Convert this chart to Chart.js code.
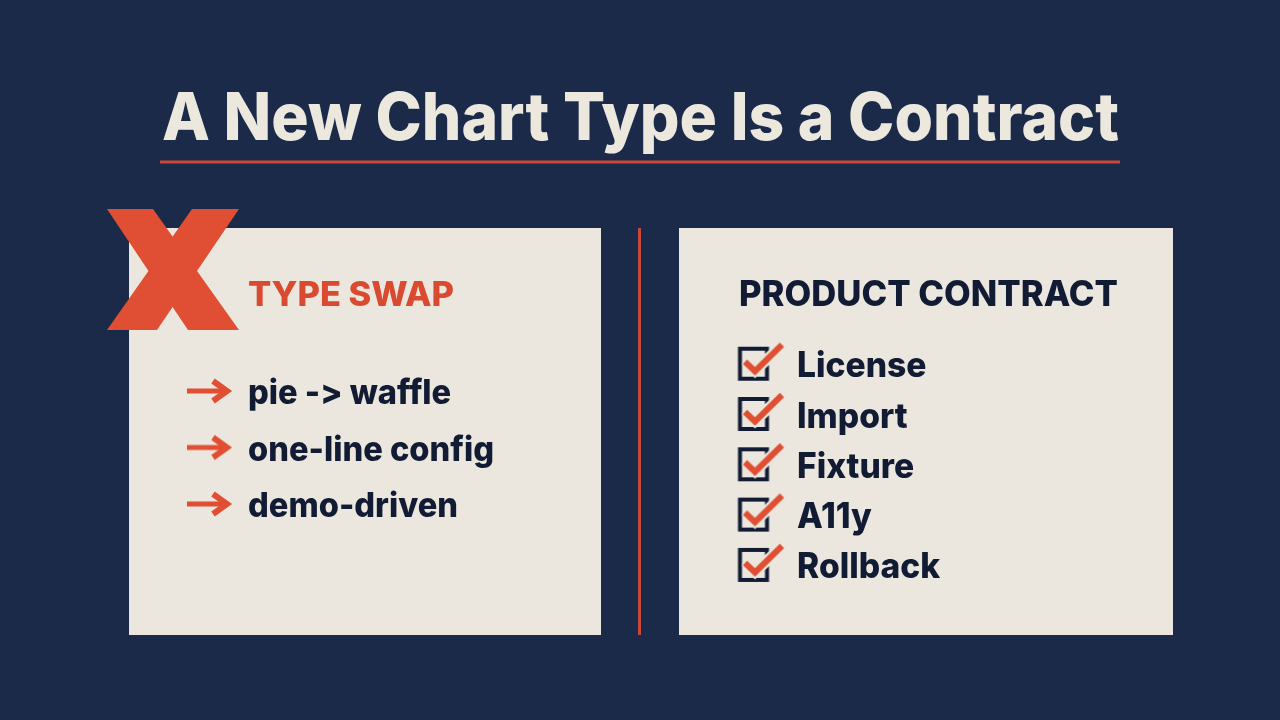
<!DOCTYPE html>
<html>
<head>
<meta charset="utf-8">
<title>A New Chart Type Is a Contract</title>
<script src="https://cdn.jsdelivr.net/npm/chart.js@4.4.1/dist/chart.umd.min.js"></script>
<style>
  html, body { margin: 0; padding: 0; background: #1b2a48; }
  #board { display: block; }
</style>
</head>
<body>
<canvas id="board" width="1280" height="720"></canvas>
<script>
// ── content ──
var TITLE = 'A New Chart Type Is a Contract';
var LEFT_HEADING = 'TYPE SWAP';
var LEFT_ITEMS = ['pie -> waffle', 'one-line config', 'demo-driven'];
var RIGHT_HEADING = 'PRODUCT CONTRACT';
var RIGHT_ITEMS = ['License', 'Import', 'Fixture', 'A11y', 'Rollback'];

// ── colours ──
var NAVY = '#1b2a48';
var PAPER = '#ebe7de';
var INK = '#111b33';
var RED = '#e04f33';
var CREAM = '#ece8de';
var FONT = "Inter, 'Noto Sans', sans-serif";

// layout rows (pixel units, the scales run 0..1280 / 0..720)
var LEFT_ROW0 = 391, LEFT_STEP = 56.5, ARROW_X = 209;
var RIGHT_ROW0 = 363.7, RIGHT_STEP = 50.3, BOX_X = 753.5;

// arrow marker used as point style
function makeArrow() {
  var c = document.createElement('canvas');
  c.width = 56; c.height = 30;
  var g = c.getContext('2d');
  g.strokeStyle = RED; g.lineCap = 'butt'; g.lineJoin = 'miter';
  g.lineWidth = 5;
  g.beginPath(); g.moveTo(6, 15); g.lineTo(44, 15); g.stroke();
  g.lineWidth = 6;
  g.beginPath(); g.moveTo(32, 5); g.lineTo(46, 15); g.lineTo(32, 25); g.stroke();
  return c;
}

// checkbox marker used as point style
function makeCheck() {
  var c = document.createElement('canvas');
  c.width = 64; c.height = 64;
  var g = c.getContext('2d');
  g.strokeStyle = INK; g.lineWidth = 4;
  g.strokeRect(18.5, 17, 27, 30);
  g.lineJoin = 'miter';
  g.strokeStyle = PAPER; g.lineWidth = 11; g.lineCap = 'round';
  g.beginPath(); g.moveTo(26, 32); g.lineTo(33.5, 39); g.lineTo(59, 15); g.stroke();
  g.strokeStyle = RED; g.lineWidth = 6; g.lineCap = 'butt';
  g.beginPath(); g.moveTo(23.5, 30); g.lineTo(33.5, 39.5); g.lineTo(60.5, 13); g.stroke();
  return c;
}

// text squeezed/stretched to a given width
function fitText(ctx, text, x, y, font, width) {
  ctx.save();
  ctx.font = font;
  var w = ctx.measureText(text).width;
  ctx.translate(x, y);
  ctx.scale(width / w, 1);
  ctx.fillText(text, 0, 0);
  ctx.restore();
}

// draws text in pieces at each hyphen so "->" is not turned into a ligature arrow
function scaledText(ctx, text, x, y, font, sx) {
  ctx.save();
  ctx.font = font;
  ctx.translate(x, y);
  ctx.scale(sx, 1);
  var parts = text.split('-'), done = '';
  parts.forEach(function(p, i) {
    var piece = i < parts.length - 1 ? p + '-' : p;
    ctx.fillText(piece, ctx.measureText(done).width, 0);
    done += piece;
  });
  ctx.restore();
}

var boardPlugin = {
  id: 'board',
  beforeDatasetsDraw: function(chart) {
    var ctx = chart.ctx, xs = chart.scales.x, ys = chart.scales.y;
    function px(v) { return xs.getPixelForValue(v); }
    function py(v) { return ys.getPixelForValue(v); }
    ctx.save();
    ctx.fillStyle = NAVY;
    ctx.fillRect(0, 0, chart.width, chart.height);

    // title + rule
    ctx.fillStyle = CREAM;
    ctx.textBaseline = 'alphabetic';
    fitText(ctx, TITLE, px(162), py(140), '800 66px ' + FONT, 957);
    ctx.fillStyle = '#c8473a';
    ctx.fillRect(px(160), py(160.5), px(1120) - px(160), 3);

    // panels
    ctx.fillStyle = PAPER;
    ctx.fillRect(px(129), py(228), px(601) - px(129), py(635) - py(228));
    ctx.fillRect(px(679), py(228), px(1173) - px(679), py(635) - py(228));

    // divider
    ctx.fillStyle = '#c8473a';
    ctx.fillRect(px(638), py(228), 3, py(635) - py(228));

    // big X
    ctx.fillStyle = RED;
    ctx.beginPath();
    ctx.moveTo(px(107), py(209)); ctx.lineTo(px(153), py(209));
    ctx.lineTo(px(239), py(330)); ctx.lineTo(px(188), py(330));
    ctx.closePath(); ctx.fill();
    ctx.beginPath();
    ctx.moveTo(px(192), py(209)); ctx.lineTo(px(239), py(209));
    ctx.lineTo(px(157), py(330)); ctx.lineTo(px(107), py(330));
    ctx.closePath(); ctx.fill();

    // headings
    ctx.fillStyle = '#d94a30';
    fitText(ctx, LEFT_HEADING, px(248), py(306), '800 34px ' + FONT, 206);
    ctx.fillStyle = INK;
    fitText(ctx, RIGHT_HEADING, px(739), py(306), '800 35px ' + FONT, 379);
    ctx.restore();
  },
  afterDatasetsDraw: function(chart) {
    var ctx = chart.ctx;
    ctx.save();
    ctx.fillStyle = INK;
    ctx.textBaseline = 'alphabetic';
    chart.getDatasetMeta(0).data.forEach(function(pt, i) {
      scaledText(ctx, LEFT_ITEMS[i], pt.x + 39, pt.y + 13, '800 34px ' + FONT, 0.96);
    });
    chart.getDatasetMeta(1).data.forEach(function(pt, i) {
      scaledText(ctx, RIGHT_ITEMS[i], pt.x + 43.5, pt.y + 13.5, '800 35px ' + FONT, 0.96);
    });
    ctx.restore();
  }
};

var arrowImg = makeArrow();
var checkImg = makeCheck();

new Chart(document.getElementById('board'), {
  type: 'scatter',
  data: {
    datasets: [
      {
        label: LEFT_HEADING,
        data: LEFT_ITEMS.map(function(t, i) { return { x: ARROW_X, y: LEFT_ROW0 + i * LEFT_STEP }; }),
        pointStyle: arrowImg, pointRadius: 10
      },
      {
        label: RIGHT_HEADING,
        data: RIGHT_ITEMS.map(function(t, i) { return { x: BOX_X, y: RIGHT_ROW0 + i * RIGHT_STEP }; }),
        pointStyle: checkImg, pointRadius: 10
      }
    ]
  },
  options: {
    responsive: false,
    animation: false,
    devicePixelRatio: 1,
    layout: { padding: 0, autoPadding: false },
    scales: {
      x: { type: 'linear', min: 0, max: 1280, display: false },
      y: { type: 'linear', min: 0, max: 720, reverse: true, display: false }
    },
    plugins: { legend: { display: false }, tooltip: { enabled: false } }
  },
  plugins: [boardPlugin]
});
</script>
</body>
</html>
